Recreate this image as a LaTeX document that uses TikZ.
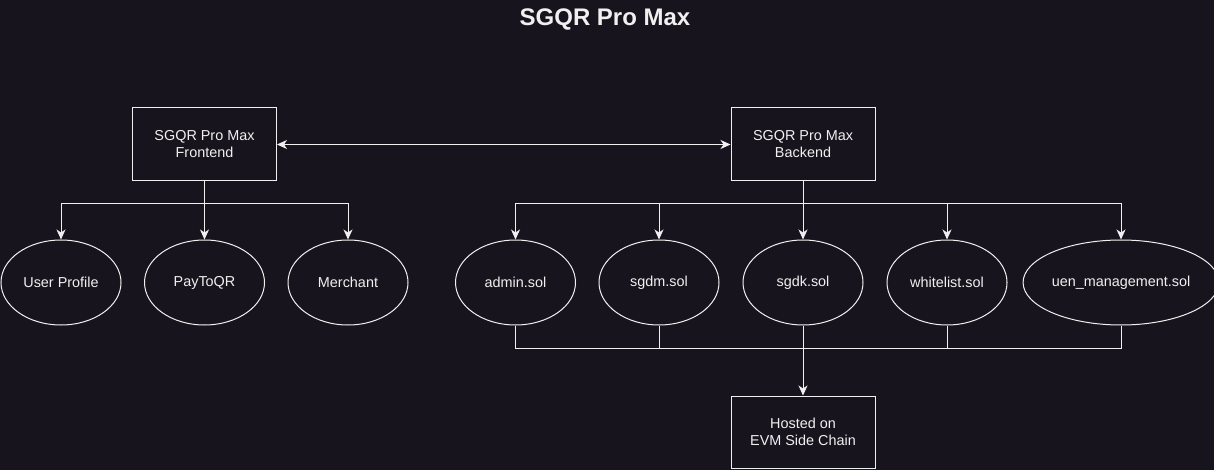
\documentclass[tikz,border=0pt]{standalone}
\usepackage{fontspec}
\setmainfont{Liberation Sans}
\usetikzlibrary{shapes.geometric,arrows.meta}
\definecolor{bg}{RGB}{24,20,29}
\definecolor{fg}{RGB}{240,240,240}
\tikzset{
  box/.style={draw=fg,line width=1pt,fill=bg,minimum width=144pt,minimum height=73pt,inner sep=0pt,align=center,text=fg,font=\fontsize{14.4}{17}\selectfont},
  oval/.style={ellipse,draw=fg,line width=1pt,fill=bg,minimum width=120pt,minimum height=85pt,inner sep=0pt,text=fg,font=\fontsize{14.4}{17}\selectfont},
  conn/.style={draw=fg,line width=1pt},
  arr/.style={conn,-{Stealth[length=10pt,width=9pt,inset=3pt]}},
  darr/.style={conn,{Stealth[length=10pt,width=9pt,inset=3pt]}-{Stealth[length=10pt,width=9pt,inset=3pt]}}
}
\begin{document}
\begin{tikzpicture}[x=1pt,y=-1pt]
\useasboundingbox (0,0) rectangle (1214,470);
\fill[bg] (0,0) rectangle (1214,470);
\node[text=fg,font=\bfseries\fontsize{24}{28}\selectfont] (title) at (605,19.5) {SGQR Pro Max};
\node[box] (fe) at (204.5,144.5) {SGQR Pro Max\\Frontend};
\node[box] (be) at (803,144.5) {SGQR Pro Max\\Backend};
\node[oval] (up) at (61,282.5) {User Profile};
\node[oval] (pq) at (204.5,282.5) {PayToQR};
\node[oval] (me) at (348,282.5) {Merchant};
\node[oval] (ad) at (515.5,282.5) {admin.sol};
\node[oval] (sm) at (659,282.5) {sgdm.sol};
\node[oval] (sk) at (803,282.5) {sgdk.sol};
\node[oval] (wl) at (947,282.5) {whitelist.sol};
\node[oval,minimum width=181pt] (uen) at (1121,282.5) {uen\_management.sol};
\node[box,minimum height=72pt] (host) at (803,432) {Hosted on\\EVM Side Chain};
\coordinate (ft) at (204.5,204);
\coordinate (bt) at (803,204);
\coordinate (bb) at (803,348);
\draw[darr] (fe.east) -- (be.west);
\draw[conn] (fe.south) -- (ft);
\draw[arr] (ft) -| (up.north);
\draw[arr] (ft) -- (pq.north);
\draw[arr] (ft) -| (me.north);
\draw[conn] (be.south) -- (bt);
\draw[arr] (bt) -| (ad.north);
\draw[arr] (bt) -| (sm.north);
\draw[arr] (bt) -- (sk.north);
\draw[arr] (bt) -| (wl.north);
\draw[arr] (bt) -| (uen.north);
\draw[conn] (ad.south) |- (bb);
\draw[conn] (sm.south) |- (bb);
\draw[conn] (wl.south) |- (bb);
\draw[conn] (uen.south) |- (bb);
\draw[arr] (sk.south) -- (host.north);
\end{tikzpicture}
\end{document}
